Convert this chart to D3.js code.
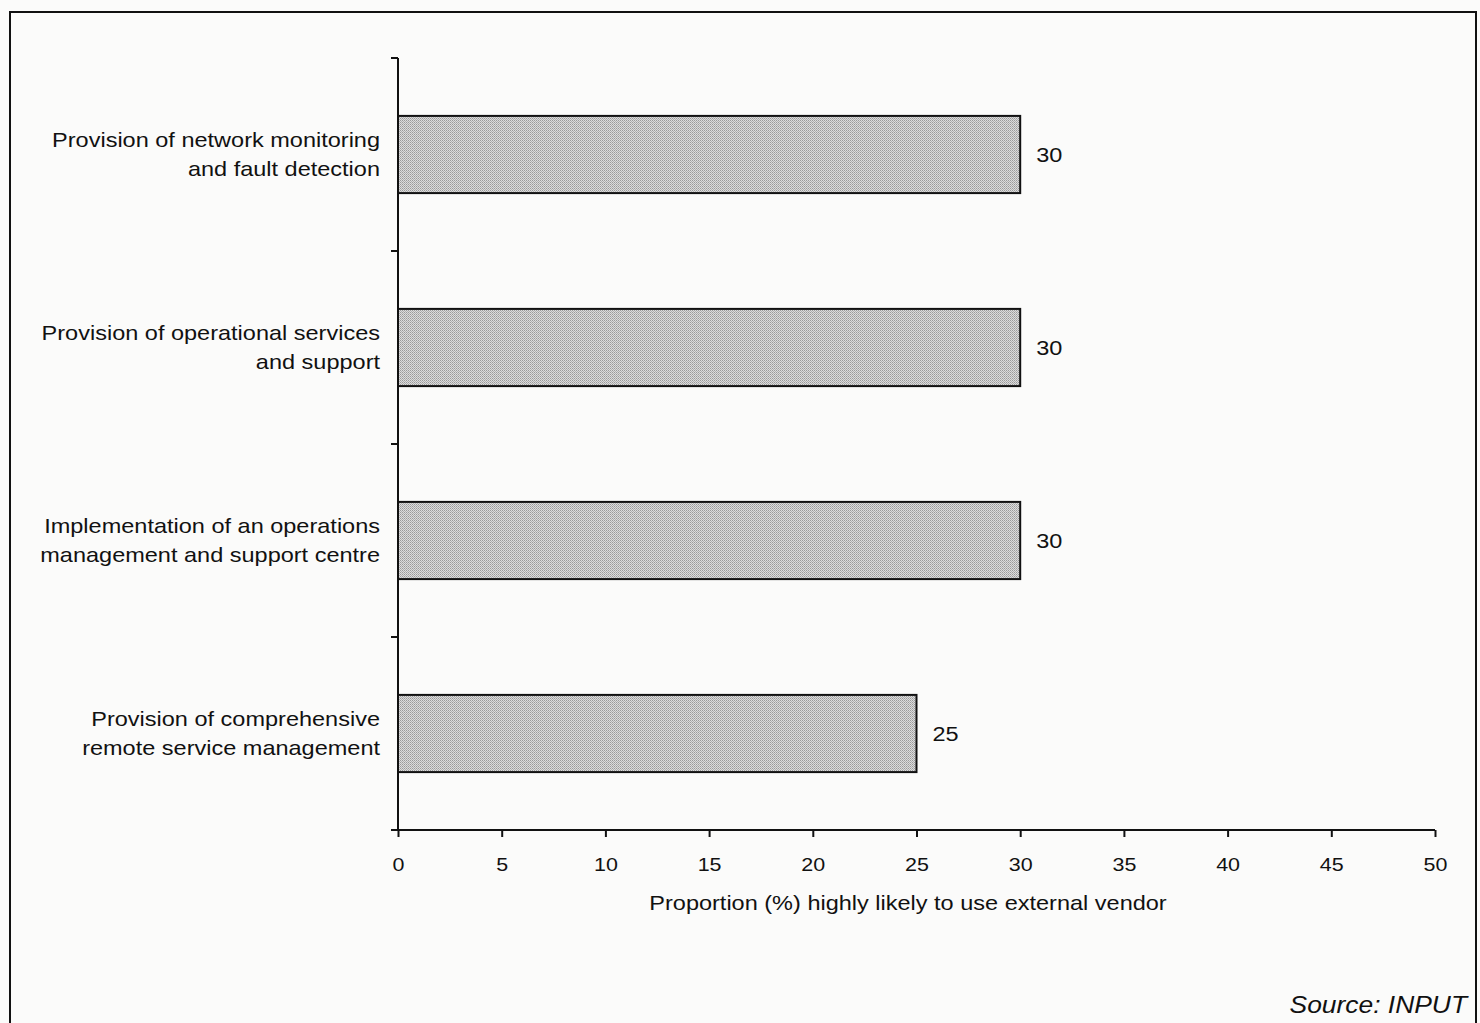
<!DOCTYPE html>
<html>
<head>
<meta charset="utf-8">
<script src="https://cdn.jsdelivr.net/npm/d3@7"></script>
<style>
  body { margin: 0; background: #fbfbfa; }
  svg { display: block; font-family: "Liberation Sans", Arial, Helvetica, sans-serif; }
</style>
</head>
<body>
<div id="chart"></div>
<script>
// categories top to bottom, each label split into two lines
const categories = [
  ["Provision of network monitoring", "and fault detection"],
  ["Provision of operational services", "and support"],
  ["Implementation of an operations", "management and support centre"],
  ["Provision of comprehensive", "remote service management"]
];
const values = [30, 30, 30, 25];
const xTicks = [0, 5, 10, 15, 20, 25, 30, 35, 40, 45, 50];
const xTitle = "Proportion (%) highly likely to use external vendor";
const sourceText = "Source: INPUT";

const width = 1480, height = 1023;
const svg = d3.select("#chart").append("svg").attr("width", width).attr("height", height);

// the scanned type is a bit wider than Liberation Sans, so stretch it sideways
const sx = 1.12;

// frame (bottom edge runs off the page)
svg.append("path")
  .attr("d", "M10,1030 V12 H1476 V1030")
  .attr("fill", "none").attr("stroke", "#111").attr("stroke-width", 2);

// stipple pattern for bars
const defs = svg.append("defs");
const pat = defs.append("pattern").attr("id", "stip")
  .attr("width", 2).attr("height", 2).attr("patternUnits", "userSpaceOnUse");
pat.append("rect").attr("width", 2).attr("height", 2).attr("fill", "#dcdcdc");
pat.append("rect").attr("width", 1).attr("height", 1).attr("fill", "#9a9a9a");
pat.append("rect").attr("x", 1).attr("y", 1).attr("width", 1).attr("height", 1).attr("fill", "#b0b0b0");

const mLeft = 398, mRight = 1435, mTop = 58, mBottom = 830;

const x = d3.scaleLinear().domain([0, 50]).range([mLeft, mRight]);
const y = d3.scaleBand().domain(d3.range(categories.length)).range([mTop, mBottom]).paddingInner(0.6).paddingOuter(0.3);

// bars
svg.append("g").selectAll("rect")
  .data(values)
  .join("rect")
  .attr("x", x(0))
  .attr("y", (d, i) => y(i))
  .attr("width", d => x(d) - x(0))
  .attr("height", y.bandwidth())
  .attr("fill", "url(#stip)")
  .attr("stroke", "#111")
  .attr("stroke-width", 2);

// value labels
svg.append("g").selectAll("text")
  .data(values)
  .join("text")
  .attr("transform", (d, i) => `translate(${x(d) + 16},${y(i) + y.bandwidth() / 2 + 7}) scale(${sx},1)`)
  .attr("font-size", 21)
  .attr("fill", "#111")
  .text(d => d);

// y axis line and ticks at band boundaries
const step = (mBottom - mTop) / categories.length;
const yAxis = svg.append("g").attr("stroke", "#111").attr("stroke-width", 2);
yAxis.append("line").attr("x1", mLeft).attr("x2", mLeft).attr("y1", mTop).attr("y2", mBottom);
yAxis.selectAll("line.t")
  .data(d3.range(categories.length + 1))
  .join("line").attr("class", "t")
  .attr("x1", mLeft - 7).attr("x2", mLeft)
  .attr("y1", i => mTop + i * step).attr("y2", i => mTop + i * step);

// category labels
svg.append("g").selectAll("text")
  .data(categories)
  .join("text")
  .attr("text-anchor", "end")
  .attr("font-size", 21)
  .attr("fill", "#111")
  .attr("transform", (d, i) => `translate(380,${y(i) + y.bandwidth() / 2}) scale(${sx},1)`)
  .selectAll("tspan")
  .data(d => d)
  .join("tspan")
  .attr("x", 0)
  .attr("y", (d, j) => (j === 0 ? -8 : 22))
  .text(d => d);

// x axis
const xAxis = svg.append("g")
  .attr("transform", `translate(0,${mBottom})`)
  .call(d3.axisBottom(x).tickValues(xTicks).tickSize(7).tickSizeOuter(0));
xAxis.select(".domain").attr("stroke", "#111").attr("stroke-width", 2).attr("d", `M${mLeft - 7},0H${mRight}`);
xAxis.selectAll(".tick line").attr("stroke", "#111").attr("stroke-width", 2);
xAxis.selectAll(".tick text")
  .attr("y", 41).attr("dy", null)
  .attr("transform", `scale(1.13,1)`)
  .attr("font-size", 19)
  .attr("font-family", "Liberation Sans, Arial, sans-serif")
  .attr("fill", "#111");

// axis title
svg.append("text")
  .attr("transform", `translate(908,910) scale(${sx},1)`)
  .attr("text-anchor", "middle").attr("font-size", 21).attr("fill", "#111")
  .text(xTitle);

// source
svg.append("text")
  .attr("transform", `translate(1467,1013) scale(1.1,1)`)
  .attr("text-anchor", "end").attr("font-size", 24).attr("font-style", "italic").attr("fill", "#111")
  .text(sourceText);
</script>
</body>
</html>
